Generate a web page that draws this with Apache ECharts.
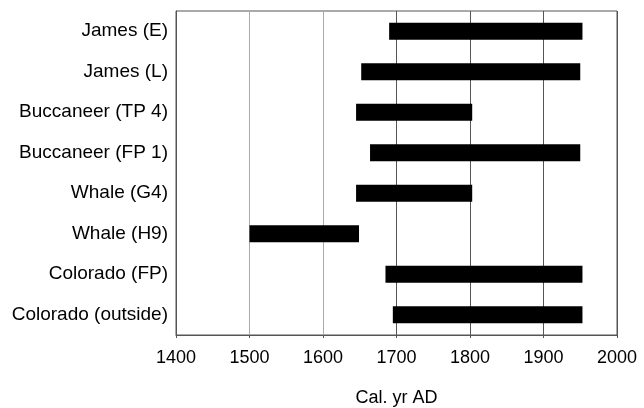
<!DOCTYPE html>
<html>
<head>
<meta charset="utf-8">
<script src="https://cdn.jsdelivr.net/npm/echarts@6/dist/echarts.min.js"></script>
<style>html,body{margin:0;padding:0;background:#fff}#c{width:644px;height:408px}</style>
</head>
<body>
<div id="c"></div>
<script>
const categories = ['James (E)', 'James (L)', 'Buccaneer (TP 4)', 'Buccaneer (FP 1)', 'Whale (G4)', 'Whale (H9)', 'Colorado (FP)', 'Colorado (outside)'];
const startYears = [1690, 1652, 1645, 1664, 1645, 1500, 1685, 1695];
const endYears = [1953, 1950, 1803, 1950, 1803, 1649, 1953, 1953];
const xTicks = [1400, 1500, 1600, 1700, 1800, 1900, 2000];

const spans = endYears.map((e, i) => e - startYears[i]);
const font = 'Liberation Sans, Arial, sans-serif';

const chart = echarts.init(document.getElementById('c'), null, {renderer: 'canvas'});
chart.setOption({
  animation: false,
  backgroundColor: '#fff',
  grid: {left: 176, right: 27, top: 11, bottom: 73, show: true, borderColor: '#555', borderWidth: 1, containLabel: false, outerBoundsMode: 'none'},
  xAxis: {
    type: 'value', min: xTicks[0], max: xTicks[xTicks.length - 1], interval: 100,
    name: 'Cal. yr AD', nameLocation: 'middle', nameGap: 54,
    nameTextStyle: {fontFamily: font, fontSize: 18, color: '#000'},
    axisLine: {show: true, lineStyle: {color: '#555'}},
    axisTick: {show: true, length: 3, lineStyle: {color: '#555'}},
    axisLabel: {fontFamily: font, fontSize: 18, color: '#000', margin: 14, formatter: v => String(v)},
    splitLine: {show: true, lineStyle: {color: ['#999', '#aaa', '#aaa', '#555', '#555', '#555', '#555'], width: 1}}
  },
  yAxis: {
    type: 'category', data: categories, inverse: true,
    axisLine: {show: true, lineStyle: {color: '#555'}},
    axisTick: {show: false},
    axisLabel: {fontFamily: font, fontSize: 19, color: '#000', margin: 8, padding: [2, 0, 0, 0]}
  },
  series: [
    {type: 'bar', stack: 'r', data: startYears, itemStyle: {color: 'transparent'}, barWidth: '42%', silent: true},
    {type: 'bar', stack: 'r', data: spans, itemStyle: {color: '#000'}, barWidth: '42%'}
  ]
});
</script>
</body>
</html>
